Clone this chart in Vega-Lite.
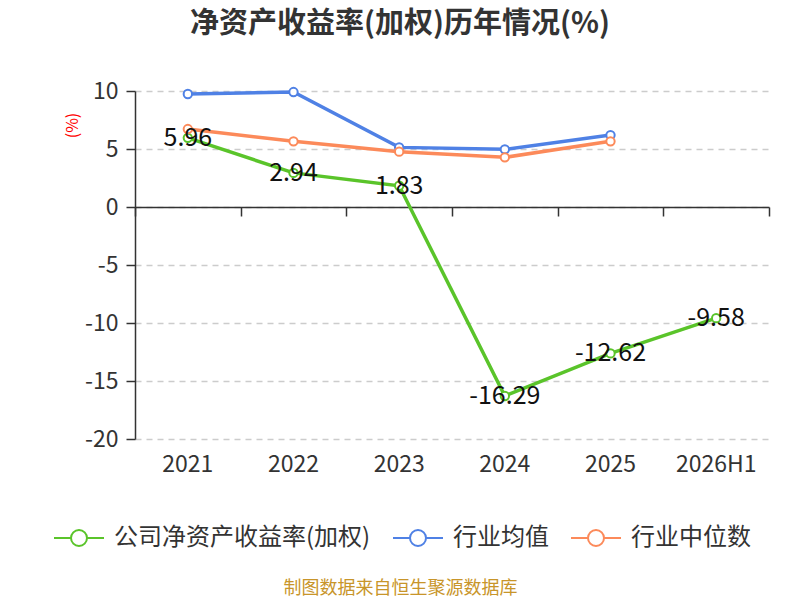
{
  "$schema": "https://vega.github.io/schema/vega-lite/v6.json",
  "autosize": {"type": "none"},
  "padding": {"left": 135, "top": 91, "right": 31, "bottom": 161},
  "width": 634,
  "height": 348,
  "background": "white",
  "config": {
    "view": {"stroke": null},
    "font": "Noto Sans CJK SC"
  },
  "title": {
    "text": "净资产收益率(加权)历年情况(%)",
    "fontSize": 29,
    "fontWeight": "bold",
    "color": "#333333",
    "frame": "group",
    "anchor": "middle",
    "dx": -52,
    "offset": 41
  },
  "data": {
    "values": [
      {"year": "2021", "series": "公司净资产收益率(加权)", "value": 5.96},
      {"year": "2022", "series": "公司净资产收益率(加权)", "value": 2.94},
      {"year": "2023", "series": "公司净资产收益率(加权)", "value": 1.83},
      {"year": "2024", "series": "公司净资产收益率(加权)", "value": -16.29},
      {"year": "2025", "series": "公司净资产收益率(加权)", "value": -12.62},
      {"year": "2026H1", "series": "公司净资产收益率(加权)", "value": -9.58},
      {"year": "2021", "series": "行业均值", "value": 9.74},
      {"year": "2022", "series": "行业均值", "value": 9.91},
      {"year": "2023", "series": "行业均值", "value": 5.14},
      {"year": "2024", "series": "行业均值", "value": 4.97},
      {"year": "2025", "series": "行业均值", "value": 6.2},
      {"year": "2021", "series": "行业中位数", "value": 6.72},
      {"year": "2022", "series": "行业中位数", "value": 5.66},
      {"year": "2023", "series": "行业中位数", "value": 4.77},
      {"year": "2024", "series": "行业中位数", "value": 4.28},
      {"year": "2025", "series": "行业中位数", "value": 5.66}
    ]
  },
  "encoding": {
    "x": {
      "field": "year",
      "type": "ordinal",
      "sort": ["2021", "2022", "2023", "2024", "2025", "2026H1"],
      "scale": {"paddingInner": 0, "paddingOuter": 0},
      "axis": null
    },
    "y": {
      "field": "value",
      "type": "quantitative",
      "scale": {"domain": [-20, 10], "nice": false, "zero": false},
      "axis": {
        "values": [-20, -15, -10, -5, 0, 5, 10],
        "labelExpr": "toString(datum.value)",
        "title": "(%)",
        "titleColor": "red",
        "titleFontSize": 16,
        "titleFontWeight": "normal",
        "titleAngle": -90,
        "titleX": -63,
        "titleY": 34,
        "titleAlign": "center",
        "titleBaseline": "middle",
        "labelFontSize": 23,
        "labelColor": "#333333",
        "labelPadding": 8,
        "domainColor": "#333333",
        "domainWidth": 1.5,
        "tickColor": "#333333",
        "tickSize": 9,
        "tickWidth": 1.5,
        "grid": true,
        "gridDash": [6, 5],
        "gridColor": "#cccccc",
        "gridWidth": 1.5
      }
    }
  },
  "layer": [
    {
      "mark": {"type": "line", "strokeWidth": 3.5},
      "encoding": {
        "color": {
          "field": "series",
          "type": "nominal",
          "sort": ["公司净资产收益率(加权)", "行业均值", "行业中位数"],
          "scale": {
            "domain": ["公司净资产收益率(加权)", "行业均值", "行业中位数"],
            "range": ["#5ac42a", "#4f81e5", "#fc8a5a"]
          },
          "legend": {
            "title": null,
            "orient": "none",
            "direction": "horizontal",
            "legendX": -82,
            "legendY": 421,
            "symbolType": "M-1,0L-0.32,0M0.32,0L1,0M0.32,0A0.32,0.32,0,1,1,-0.32,0A0.32,0.32,0,1,1,0.32,0",
            "symbolSize": 2500,
            "symbolStrokeWidth": 2,
            "symbolFillColor": "white",
            "labelFontSize": 24,
            "labelColor": "#333333",
            "labelLimit": 0,
            "labelOffset": 9,
            "columnPadding": 18,
            "encode": {
              "symbols": {"update": {"fill": {"value": "white"}, "strokeWidth": {"value": 2}}}
            }
          }
        },
        "x": {
          "field": "year",
          "type": "ordinal",
          "sort": ["2021", "2022", "2023", "2024", "2025", "2026H1"],
          "axis": {
            "orient": "bottom",
            "offset": -232,
            "labels": false,
            "title": null,
            "domainColor": "#333333",
            "domainWidth": 1.5,
            "tickColor": "#333333",
            "tickSize": 9,
            "tickWidth": 1.5,
            "tickBand": "extent",
            "grid": false
          }
        }
      }
    },
    {
      "mark": {"type": "point", "filled": true, "fill": "white", "size": 70, "strokeWidth": 2, "opacity": 1},
      "encoding": {
        "stroke": {"field": "series", "type": "nominal", "legend": null,
          "scale": {"domain": ["公司净资产收益率(加权)", "行业均值", "行业中位数"], "range": ["#5ac42a", "#4f81e5", "#fc8a5a"]}},
        "x": {
          "field": "year",
          "type": "ordinal",
          "sort": ["2021", "2022", "2023", "2024", "2025", "2026H1"],
          "axis": {
            "orient": "bottom",
            "domain": false,
            "ticks": false,
            "grid": false,
            "labelAngle": 0,
            "labelFontSize": 23,
            "labelColor": "#333333",
            "labelPadding": 14,
            "title": "制图数据来自恒生聚源数据库",
            "titleColor": "#c8952a",
            "titleFontSize": 18,
            "titleFontWeight": "normal",
            "titleX": 265,
            "titleY": 149,
            "titleAlign": "center",
            "titleBaseline": "middle"
          }
        }
      }
    },
    {
      "transform": [{"filter": "datum.series === '公司净资产收益率(加权)'"}],
      "mark": {"type": "text", "fontSize": 25, "baseline": "middle", "align": "center"},
      "encoding": {
        "text": {"field": "value", "type": "nominal"},
        "color": {"value": "#111111"}
      }
    }
  ],
  "resolve": {"axis": {"x": "independent"}}
}
